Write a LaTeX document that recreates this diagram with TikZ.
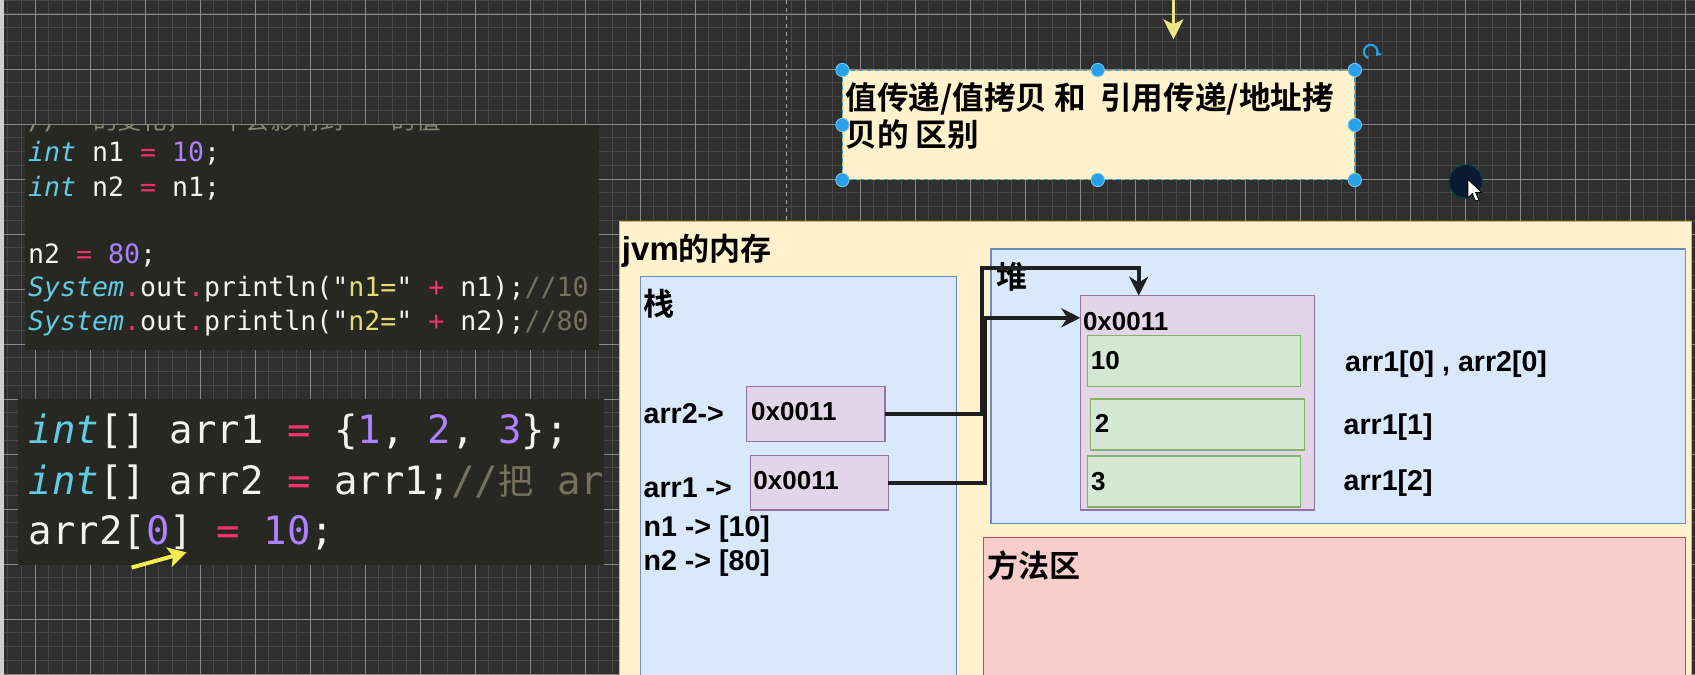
\documentclass[tikz,border=0pt]{standalone}
\usepackage{fontspec}
\setmainfont{Liberation Sans}
\setmonofont{DejaVu Sans Mono}
\newfontfamily\cjk{Noto Sans CJK SC}[BoldFont={Noto Sans CJK SC Bold}]
\usetikzlibrary{arrows.meta,calc}
\definecolor{bgc}{HTML}{2F2F2F}
\definecolor{gminor}{HTML}{474747}
\definecolor{gmajor}{HTML}{8A8A8A}
\definecolor{stripc}{HTML}{D0D0D0}
\definecolor{cbg}{HTML}{272822}
\definecolor{ckw}{HTML}{5FCBE6}
\definecolor{cop}{HTML}{F2336C}
\definecolor{cnum}{HTML}{AE81FF}
\definecolor{cstr}{HTML}{E6DB74}
\definecolor{ccom}{HTML}{75715E}
\definecolor{cfaint}{HTML}{8A8674}
\definecolor{ctxt}{HTML}{F4F4EE}
\definecolor{jvmf}{HTML}{FFF2CC}\definecolor{jvmd}{HTML}{D6B656}
\definecolor{bluef}{HTML}{DAE8FC}\definecolor{blued}{HTML}{6C8EBF}
\definecolor{purf}{HTML}{E1D5E7}\definecolor{purd}{HTML}{9673A6}
\definecolor{grnf}{HTML}{D5E8D4}\definecolor{grnd}{HTML}{82B366}
\definecolor{redf}{HTML}{F8CECC}\definecolor{redd}{HTML}{B85450}
\definecolor{hblue}{HTML}{27A2E8}
\definecolor{yarr}{HTML}{F0E584}
\definecolor{yarr2}{HTML}{F4EC50}
\definecolor{curc}{HTML}{0B1A30}
\newcommand\Kw[1]{\textcolor{ckw}{\itshape #1}}
\newcommand\Op[1]{\textcolor{cop}{#1}}
\newcommand\Nm[1]{\textcolor{cnum}{#1}}
\newcommand\St[1]{\textcolor{cstr}{#1}}
\newcommand\Cm[1]{\textcolor{ccom}{#1}}
\begin{document}
\begin{tikzpicture}[x=0.5405pt,y=-0.5405pt,
  sz/.style 2 args={minimum width=#1*0.5405pt,minimum height=#2*0.5405pt},
  panel/.style={draw,line width=0.7pt,inner sep=0pt,outer sep=0pt,anchor=north west},
  codebg/.style={fill=cbg,inner sep=0pt,outer sep=0pt,anchor=north west},
  c1/.style={anchor=base west,inner sep=0pt,text=ctxt,font=\ttfamily\fontsize{13.3}{16}\selectfont},
  c2/.style={anchor=base west,inner sep=0pt,text=ctxt,font=\ttfamily\fontsize{19.5}{23}\selectfont},
  lbl/.style={anchor=base west,inner sep=0pt,font=\bfseries\fontsize{14.3}{17}\selectfont},
  val/.style={anchor=base west,inner sep=0pt,font=\bfseries\fontsize{13}{15}\selectfont},
  cjklbl/.style={anchor=base west,inner sep=0pt,font=\cjk\bfseries\fontsize{15.5}{18}\selectfont},
  conn/.style={draw=black!88,line width=2pt,-{Stealth[length=9.5pt,width=9.5pt,inset=3pt]}},
  yarrow/.style={draw=yarr,line width=1.3pt,-{Stealth[length=10pt,width=10pt,inset=2.5pt]}},
  gridminor/.style={draw=gminor,line width=0.5pt},
  gridmajor/.style={draw=gmajor,line width=0.45pt}]
\useasboundingbox (0,0) rectangle (1568,624);
\clip (0,0) rectangle (1568,624);
% background and grid
\fill[bgc] (0,0) rectangle (1568,624);
\foreach \k in {-3,...,122} \draw[gridminor] ({32.4+12.72*\k},0) -- ++(0,624);
\foreach \k in {-1,...,48} \draw[gridminor] (0,{12.95+12.72*\k}) -- ++(1568,0);
\foreach \k in {-1,...,30} \draw[gridmajor] ({32.4+50.88*\k},0) -- ++(0,624);
\foreach \k in {0,...,12} \draw[gridmajor] (0,{12.95+50.88*\k}) -- ++(1568,0);
\fill[stripc] (0,0) rectangle (3.7,624);
\draw[draw=gray!70,line width=0.5pt,dash pattern=on 2pt off 2pt] (728,0) -- (728,205);

% code block 1
\node[codebg,sz={531.5}{208.2}] (code1) at (22.7,115.6) {};
\begin{scope}
\clip (code1.north west) rectangle (code1.south east);
\node[c1,text=cfaint] (p1) at (25.6,119.5) {//};
\node[anchor=base west,inner sep=0pt,text=cfaint,font=\cjk\fontsize{12.2}{14}\selectfont] (p2) at (86,119.5) {的变化，};
\node[anchor=base west,inner sep=0pt,text=cfaint,font=\cjk\fontsize{12.2}{14}\selectfont] (p3) at (204.6,119.5) {不会影响到};
\node[anchor=base west,inner sep=0pt,text=cfaint,font=\cjk\fontsize{12.2}{14}\selectfont] (p4) at (362,119.5) {的值};
\node[c1] (c1a) at (25.6,149.6) {\Kw{int} n1 \Op{=} \Nm{10};};
\node[c1] (c1b) at (25.6,181.9) {\Kw{int} n2 \Op{=} n1;};
\node[c1] (c1c) at (25.6,243.6) {n2 \Op{=} \Nm{80};};
\node[c1] (c1d) at (25.6,274.4) {\Kw{System}\Op{.}out\Op{.}println("\St{n1=}" \Op{+} n1);\Cm{//10}};
\node[c1] (c1e) at (25.6,305.9) {\Kw{System}\Op{.}out\Op{.}println("\St{n2=}" \Op{+} n2);\Cm{//80}};
\end{scope}

% code block 2
\node[codebg,sz={542.5}{153.7}] (code2) at (16.5,369) {};
\begin{scope}
\clip (code2.north west) rectangle (code2.south east);
\node[c2] (c2a) at (26.3,410) {\Kw{int}[] arr1 \Op{=} \{\Nm{1}, \Nm{2}, \Nm{3}\};};
\node[c2] (c2b) at (26.3,457) {\Kw{int}[] arr2 \Op{=} arr1;\Cm{//{\cjk\fontsize{17.6}{20}\selectfont 把} arr1}};
\node[c2] (c2c) at (26.3,503.5) {arr2[\Nm{0}] \Op{=} \Nm{10};};
\end{scope}
\coordinate (ya1) at (121.8,525);
\coordinate (ya2) at (172.5,511);
\draw[draw=yarr2,line width=2pt,-{Stealth[length=9pt,width=10pt,inset=2pt]}] (ya1) -- (ya2);

% top arrow
\coordinate (yt1) at (1085.5,0);
\coordinate (yt2) at (1085.5,36.4);
\draw[yarrow] (yt1) -- (yt2);

% title box
\node[panel,fill=jvmf,draw=jvmd,line width=0.5pt,sz={474}{101.7}] (title) at (779.3,64.8) {};
\draw[hblue,line width=0.5pt,dash pattern=on 2pt off 2pt] (title.north west) rectangle (title.south east);
\node[anchor=base west,inner sep=0pt,font=\cjk\bfseries\fontsize{15.8}{18.4}\selectfont] (t1) at (781.7,101.5) {值传递/值拷贝 和\ \ 引用传递/地址拷};
\node[anchor=base west,inner sep=0pt,font=\cjk\bfseries\fontsize{15.8}{18.4}\selectfont] (t2) at (781.7,135.5) {贝的 区别};
\foreach \p in {(779.3,64.8),(1015.5,64.8),(1253.3,64.8),(779.3,115.6),(1253.3,115.6),(779.3,166.5),(1015.5,166.5),(1253.3,166.5)}
  \filldraw[fill=hblue,draw=hblue!60!white,line width=0.4pt] \p circle[radius=6.2];
\draw[hblue,line width=1.1pt,-{Stealth[length=3pt,width=4pt]}] (1268,47.8) ++(110:6.3) arc[start angle=110,end angle=400,radius=6.3];

% jvm memory
\node[panel,fill=jvmf,draw=jvmd,sz={992}{440}] (jvm) at (573,205) {};
\node[anchor=base west,inner sep=0pt] (jvml) at (575,241) {\bfseries\fontsize{16.5}{19}\selectfont jvm{\cjk\fontsize{15.5}{18}\selectfont 的内存}};
\node[panel,fill=bluef,draw=blued,sz={292.3}{390}] (stack) at (592.7,256) {};
\node[cjklbl] (stackl) at (595,291.5) {栈};
\node[panel,fill=bluef,draw=blued,sz={642.2}{253.6}] (heap) at (916.8,230.4) {};
\node[cjklbl] (heapl) at (921,267) {堆};
\node[panel,fill=redf,draw=redd,sz={649}{150}] (method) at (910,497.4) {};
\node[cjklbl] (methodl) at (913,534.6) {方法区};

% stack contents
\node[panel,fill=purf,draw=purd,sz={128}{50.9}] (arr2box) at (690.7,357.7) {};
\node[val] (arr2v) at (694.5,389) {0x0011};
\node[panel,fill=purf,draw=purd,sz={127.8}{50.6}] (arr1box) at (694,421.2) {};
\node[val] (arr1v) at (696.6,452.5) {0x0011};
\node[lbl] (arr2l) at (595,391.6) {arr2->};
\node[lbl] (arr1l) at (595,460) {arr1 ->};
\node[lbl] (n1l) at (595,496) {n1 -> [10]};
\node[lbl] (n2l) at (595,527.5) {n2 -> [80]};

% heap contents
\node[panel,fill=purf,draw=purd,sz={216.4}{198.3}] (obj) at (999.4,273.5) {};
\node[val] (objv) at (1001.5,305.3) {0x0011};
\node[panel,fill=grnf,draw=grnd,sz={197.4}{47.2}] (cell1) at (1005.8,310.5) {};
\node[val] (v1) at (1008.7,341.7) {10};
\node[panel,fill=grnf,draw=grnd,sz={197.8}{47.2}] (cell2) at (1008.7,369.1) {};
\node[val] (v2) at (1012.4,400.3) {2};
\node[panel,fill=grnf,draw=grnd,sz={197.4}{47.3}] (cell3) at (1005.8,421.7) {};
\node[val] (v3) at (1009,453.3) {3};
\node[lbl] (a0) at (1244,343.8) {arr1[0] , arr2[0]};
\node[lbl] (a1) at (1242.6,401.5) {arr1[1]};
\node[lbl] (a2) at (1242.6,453.9) {arr1[2]};

% connectors
\coordinate (objtop) at ($(obj.north west)+(54,0)$);
\coordinate (j2) at (908,248.2);
\coordinate (j1) at (911,294);
\draw[conn] (arr2box.east) -| (j2) -| (objtop);
\draw[conn] (arr1box.east) -| (j1) -- (j1 -| obj.west);

% mouse cursor
\fill[curc] (1356,168) circle[radius=15.5];
\draw[teal!60!black,line width=0.6pt,opacity=0.7] (1356,168) circle[radius=15.5];
\filldraw[fill=white,draw=black,line width=0.4pt] (1358,166) -- (1358,183) -- (1362,179) -- (1365,186) -- (1368,185) -- (1365,178) -- (1370.5,178) -- cycle;
\end{tikzpicture}
\end{document}
